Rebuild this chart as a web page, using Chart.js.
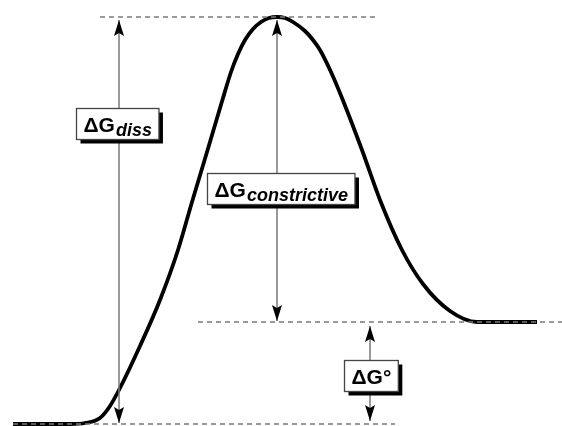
<!DOCTYPE html>
<html>
<head>
<meta charset="utf-8">
<script src="https://cdn.jsdelivr.net/npm/chart.js@4.4.1/dist/chart.umd.min.js"></script>
<style>
  body { margin: 0; background: #fff; }
  canvas { display: block; }
</style>
</head>
<body>
<canvas id="energyChart" width="562" height="426"></canvas>
<script>
// Reaction coordinate / free energy profile (energy units: 0 = start level)
const curveX = [13, 70, 85, 100, 110, 120, 140, 160, 178, 192, 207, 223, 231, 238, 245, 253, 261, 269, 277, 285, 293, 305, 313, 320, 331, 342, 362, 380, 402, 423, 450, 477, 537];
const curveY = [0, 0, 1, 6, 18, 36, 78, 124, 174, 222, 272, 326, 352, 370, 384, 395, 402, 406, 407, 406, 402, 393, 384, 374, 352, 326, 274, 224, 174, 140, 113, 102, 102];

// Energy levels (start, product, peak)
const levelNames = ['start', 'product', 'peak'];
const levelY = [0, 102, 407];
const levelFromX = [13, 198, 100];
const levelToX = [395, 562, 377];

// Arrows between levels: x position, from, to
const arrowX = [119, 277, 370];
const arrowFrom = [1, 103, 3];
const arrowTo = [404, 404, 98];
const arrowLabels = ['diss', 'constrictive', null];

// label anchor (centre) for each arrow
const labelCX = [117, 281, 371];
const labelCY = [300, 235, 49];

const datasets = [];
levelY.forEach((y, i) => {
    datasets.push({
        label: levelNames[i],
        data: [{ x: levelFromX[i], y: y }, { x: levelToX[i], y: y }],
        borderColor: '#7a7a7a',
        borderWidth: 1.5,
        borderDash: [5, 4],
        pointRadius: 0,
        showLine: true
    });
});
arrowX.forEach((x, i) => {
    datasets.push({
        label: 'arrow' + i,
        arrow: true,
        data: [{ x: x, y: arrowFrom[i] }, { x: x, y: arrowTo[i] }],
        borderColor: '#777',
        borderWidth: 1.5,
        pointRadius: 0,
        showLine: true
    });
});
datasets.push({
    label: 'profile',
    data: curveX.map((x, i) => ({ x: x, y: curveY[i] })),
    borderColor: '#000',
    borderWidth: 3.8,
    pointRadius: 0,
    showLine: true,
    cubicInterpolationMode: 'monotone',
    borderCapStyle: 'butt'
});

const arrowHeads = {
    id: 'arrowHeads',
    afterDatasetsDraw(chart) {
        const ctx = chart.ctx;
        const xs = chart.scales.x, ys = chart.scales.y;
        ctx.save();
        ctx.fillStyle = '#000';
        chart.data.datasets.forEach(ds => {
            if (!ds.arrow) return;
            const px = xs.getPixelForValue(ds.data[0].x);
            const a = ys.getPixelForValue(ds.data[0].y);
            const b = ys.getPixelForValue(ds.data[1].y);
            const top = Math.min(a, b), bottom = Math.max(a, b);
            [[top, 1], [bottom, -1]].forEach(([tip, dir]) => {
                ctx.beginPath();
                ctx.moveTo(px, tip);
                ctx.lineTo(px - 5, tip + dir * 16);
                ctx.lineTo(px, tip + dir * 13);
                ctx.lineTo(px + 5, tip + dir * 16);
                ctx.closePath();
                ctx.fill();
            });
        });
        ctx.restore();
    }
};

const labelBoxes = {
    id: 'labelBoxes',
    afterDatasetsDraw(chart) {
        const ctx = chart.ctx;
        const xs = chart.scales.x, ys = chart.scales.y;
        ctx.save();
        arrowLabels.forEach((sub, i) => {
            const cx = xs.getPixelForValue(labelCX[i]);
            const cy = ys.getPixelForValue(labelCY[i]);
            const main = sub ? '\u0394G' : '\u0394G\u00B0';
            ctx.font = 'bold 21px "Liberation Sans", Arial, sans-serif';
            const wMain = ctx.measureText(main).width;
            ctx.font = 'italic bold 18px "Liberation Sans", Arial, sans-serif';
            const wSub = sub ? ctx.measureText(sub).width + 1 : 0;
            const w = wMain + wSub + 14;
            const h = 31;
            const x0 = Math.round(cx - w / 2) + 0.5;
            const y0 = Math.round(cy - h / 2) + 0.5;
            ctx.fillStyle = '#000';
            ctx.fillRect(x0 + 4, y0 + 4, w, h);
            ctx.fillStyle = '#fff';
            ctx.fillRect(x0, y0, w, h);
            ctx.strokeStyle = '#444';
            ctx.lineWidth = 1.3;
            ctx.strokeRect(x0, y0, w, h);
            ctx.fillStyle = '#000';
            ctx.textBaseline = 'alphabetic';
            ctx.font = 'bold 21px "Liberation Sans", Arial, sans-serif';
            ctx.fillText(main, x0 + 7, y0 + 23);
            if (sub) {
                ctx.font = 'italic bold 18px "Liberation Sans", Arial, sans-serif';
                ctx.fillText(sub, x0 + 7 + wMain + 1, y0 + 27);
            }
        });
        ctx.restore();
    }
};

new Chart(document.getElementById('energyChart').getContext('2d'), {
    type: 'scatter',
    data: { datasets: datasets },
    options: {
        responsive: false,
        animation: false,
        layout: { padding: 0 },
        plugins: { legend: { display: false }, tooltip: { enabled: false } },
        scales: {
            x: { type: 'linear', min: 0, max: 562, display: false },
            y: { type: 'linear', min: -2, max: 424, display: false }
        }
    },
    plugins: [arrowHeads, labelBoxes]
});
</script>
</body>
</html>
